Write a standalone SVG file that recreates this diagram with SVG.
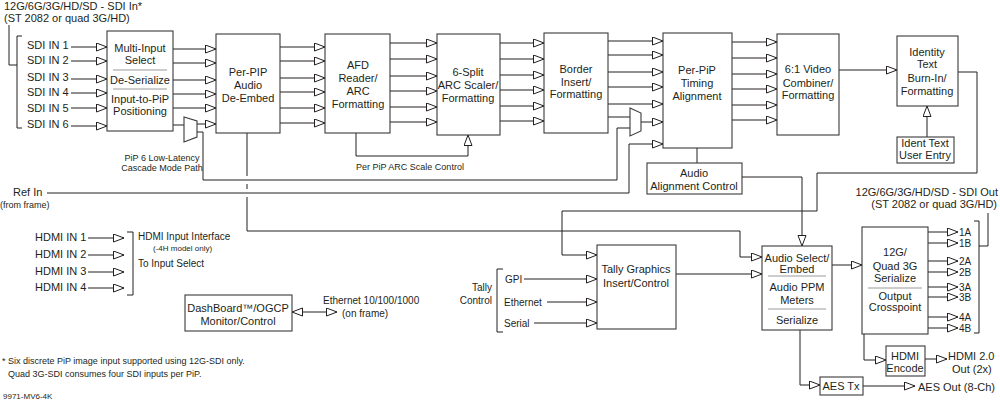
<svg xmlns="http://www.w3.org/2000/svg" width="1000" height="401" viewBox="0 0 1000 401">
<defs>
<style>
text{font-family:"Liberation Sans",Arial,sans-serif;font-size:11px;fill:#231f20}
.c{text-anchor:middle}
.e{text-anchor:end}
.sm{font-size:9px}
.xs{font-size:8px}
.md{font-size:10px}
.b{fill:#fff;stroke:#3a3a3a;stroke-width:1.1}
#connectors path{fill:none;stroke:#231f20;stroke-width:1}
#connectors path.a{marker-end:url(#ah)}
.sep{stroke:#9a9a9a;stroke-width:1}
</style>
<marker id="ah" markerWidth="12" markerHeight="10" refX="11" refY="4.5" orient="auto-start-reverse" markerUnits="userSpaceOnUse">
<path d="M0.5,0.5 L11,4.5 L0.5,8.5 Z" fill="#fff" stroke="#231f20" stroke-width="1"/>
</marker>
</defs>
<rect width="1000" height="401" fill="#fff"/>

<g id="connectors">
<path d="M9,25V65H17 M22,36H17V128H22"/>
<path class="a" d="M71,47H107"/>
<path class="a" d="M71,61H107"/>
<path class="a" d="M71,79H107"/>
<path class="a" d="M71,93H107"/>
<path class="a" d="M71,108H107"/>
<path class="a" d="M71,126H107"/>
<path class="a" d="M173,49H216"/>
<path class="a" d="M173,63H216"/>
<path class="a" d="M173,80H216"/>
<path class="a" d="M173,94H216"/>
<path class="a" d="M173,108H216"/>
<path class="a" d="M197,124H216"/>
<path d="M173,125H184"/>
<path class="a" d="M280,47H325"/>
<path class="a" d="M280,61H325"/>
<path class="a" d="M280,78H325"/>
<path class="a" d="M280,92H325"/>
<path class="a" d="M280,108H325"/>
<path class="a" d="M280,123H325"/>
<path class="a" d="M390,43H437"/>
<path class="a" d="M390,59H437"/>
<path class="a" d="M390,76H437"/>
<path class="a" d="M390,91H437"/>
<path class="a" d="M390,107H437"/>
<path class="a" d="M390,122H437"/>
<path class="a" d="M500,43H544"/>
<path class="a" d="M500,59H544"/>
<path class="a" d="M500,75H544"/>
<path class="a" d="M500,90H544"/>
<path class="a" d="M500,106H544"/>
<path class="a" d="M500,121H544"/>
<path class="a" d="M608,41H663"/>
<path class="a" d="M608,55H663"/>
<path class="a" d="M608,72H663"/>
<path class="a" d="M608,87H663"/>
<path class="a" d="M608,104H663"/>
<path class="a" d="M641,122H663"/>
<path d="M608,117H630"/>
<path class="a" d="M732,42H777"/>
<path class="a" d="M732,58H777"/>
<path class="a" d="M732,74H777"/>
<path class="a" d="M732,89H777"/>
<path class="a" d="M732,105H777"/>
<path class="a" d="M732,120H777"/>
<path class="a" d="M839,70H897"/>
<path class="a" d="M927,137V106"/>
<path class="a" d="M356,133V156H468V135"/>
<path class="a" d="M47,193H629V144H663"/>
<path d="M197,132H203V180H617V128H630"/>
<path d="M697,148V163"/>
<path class="a" d="M742,177H802V246"/>
<path class="a" d="M958,72H977V173H817V211H562V255H597"/>
<path d="M247,133V176 M247,184V189 M247,197V231H740V257"/>
<path class="a" d="M740,257H762"/>
<path class="a" d="M676,274H762"/>
<path class="a" d="M524,279H597"/>
<path class="a" d="M547,302H597"/>
<path class="a" d="M534,323H597"/>
<path d="M503,269H497V332H503"/>
<path class="a" d="M832,265H862"/>
<path class="a" d="M928,232H958"/>
<path class="a" d="M928,243H958"/>
<path class="a" d="M928,261H958"/>
<path class="a" d="M928,272H958"/>
<path class="a" d="M928,287H958"/>
<path class="a" d="M928,297H958"/>
<path class="a" d="M928,317H958"/>
<path class="a" d="M928,328H958"/>
<path d="M974,221H979V333H974 M979,246H988V213"/>
<path class="a" d="M864,334V360H886"/>
<path class="a" d="M925,359H947"/>
<path class="a" d="M800,330V385H820"/>
<path class="a" d="M863,386H915"/>
<path class="a" d="M88,238H124"/>
<path class="a" d="M88,255H124"/>
<path class="a" d="M88,272H124"/>
<path class="a" d="M88,288H124"/>
<path d="M127,232H133V295H127"/>
<path class="a" d="M292,312H337" marker-start="url(#ah)"/>
</g>

<g id="labels">
<text x="4" y="10">12G/6G/3G/HD/SD - SDI In*</text>
<text x="4" y="22">(ST 2082 or quad 3G/HD)</text>
<text x="27" y="49">SDI IN 1</text>
<text x="27" y="64">SDI IN 2</text>
<text x="27" y="81">SDI IN 3</text>
<text x="27" y="96">SDI IN 4</text>
<text x="27" y="112">SDI IN 5</text>
<text x="27" y="128">SDI IN 6</text>
<text class="sm c" x="162" y="161">PiP 6 Low-Latency</text>
<text class="sm c" x="162" y="171">Cascade Mode Path</text>
<text class="sm" x="356" y="170">Per PiP ARC Scale Control</text>
<text x="13" y="196">Ref In</text>
<text class="sm" x="0" y="208">(from frame)</text>
<text x="35" y="241">HDMI IN 1</text>
<text x="35" y="258">HDMI IN 2</text>
<text x="35" y="275">HDMI IN 3</text>
<text x="35" y="291">HDMI IN 4</text>
<text class="md" x="138" y="240">HDMI Input Interface</text>
<text class="xs" x="153" y="251">(-4H model only)</text>
<text class="md" x="138" y="267">To Input Select</text>
<text class="md" x="323" y="304">Ethernet 10/100/1000</text>
<text class="md" x="342" y="317">(on frame)</text>
<text class="md e" x="492" y="291">Tally</text>
<text class="md e" x="492" y="304">Control</text>
<text class="md" x="505" y="283">GPI</text>
<text class="md" x="504" y="306">Ethernet</text>
<text class="md" x="504" y="327">Serial</text>
<text class="sm" x="2" y="364">* Six discrete PiP image input supported using 12G-SDI only.</text>
<text class="sm" x="8" y="377">Quad 3G-SDI consumes four SDI inputs per PiP.</text>
<text class="xs" x="3" y="399">9971-MV6-4K</text>
<text class="e" x="998" y="196">12G/6G/3G/HD/SD - SDI Out</text>
<text class="e" x="997" y="208">(ST 2082 or quad 3G/HD)</text>
<text class="md" x="959" y="236">1A</text>
<text class="md" x="959" y="247">1B</text>
<text class="md" x="959" y="265">2A</text>
<text class="md" x="959" y="276">2B</text>
<text class="md" x="959" y="291">3A</text>
<text class="md" x="959" y="301">3B</text>
<text class="md" x="959" y="321">4A</text>
<text class="md" x="959" y="332">4B</text>
<text x="948" y="360">HDMI 2.0</text>
<text x="952" y="373">Out (2x)</text>
<text x="918" y="391">AES Out (8-Ch)</text>
</g>

<g id="multi-input">
<rect class="b" x="107" y="31" width="66" height="100"/>
<line class="sep" x1="113" y1="70" x2="167" y2="70"/>
<line class="sep" x1="113" y1="89" x2="167" y2="89"/>
<text class="c" x="140" y="52">Multi-Input</text>
<text class="c" x="140" y="64">Select</text>
<text class="c" x="140" y="84">De-Serialize</text>
<text class="c" x="140" y="103">Input-to-PiP</text>
<text class="c" x="140" y="115">Positioning</text>
</g>
<g id="mux1"><polygon class="b" points="184,117 197,121 197,137 184,142"/></g>
<g id="per-pip-audio">
<rect class="b" x="216" y="34" width="64" height="99"/>
<text class="c" x="248" y="76">Per-PIP</text>
<text class="c" x="248" y="89">Audio</text>
<text class="c" x="248" y="102">De-Embed</text>
</g>
<g id="afd">
<rect class="b" x="325" y="34" width="65" height="99"/>
<text class="c" x="358" y="69">AFD</text>
<text class="c" x="358" y="82">Reader/</text>
<text class="c" x="358" y="95">ARC</text>
<text class="c" x="358" y="108">Formatting</text>
</g>
<g id="six-split">
<rect class="b" x="437" y="34" width="63" height="101"/>
<text class="c" x="468" y="76">6-Split</text>
<text class="c" x="468" y="89">ARC Scaler/</text>
<text class="c" x="468" y="102">Formatting</text>
</g>
<g id="border">
<rect class="b" x="544" y="33" width="64" height="100"/>
<text class="c" x="576" y="73">Border</text>
<text class="c" x="576" y="86">Insert/</text>
<text class="c" x="576" y="98">Formatting</text>
</g>
<g id="mux2"><polygon class="b" points="630,108 641,113 641,131 630,136"/></g>
<g id="timing">
<rect class="b" x="663" y="33" width="69" height="115"/>
<text class="c" x="697" y="74">Per-PiP</text>
<text class="c" x="697" y="87">Timing</text>
<text class="c" x="697" y="100">Alignment</text>
</g>
<g id="audio-align">
<rect class="b" x="647" y="163" width="95" height="31"/>
<text class="c" x="694" y="177">Audio</text>
<text class="c" x="694" y="190">Alignment Control</text>
</g>
<g id="combiner">
<rect class="b" x="777" y="34" width="62" height="101"/>
<text class="c" x="808" y="73">6:1 Video</text>
<text class="c" x="808" y="87">Combiner/</text>
<text class="c" x="808" y="99">Formatting</text>
</g>
<g id="identity">
<rect class="b" x="897" y="36" width="61" height="70"/>
<text class="c" x="927" y="56">Identity</text>
<text class="c" x="927" y="68">Text</text>
<text class="c" x="927" y="82">Burn-In/</text>
<text class="c" x="927" y="95">Formatting</text>
</g>
<g id="ident-entry">
<rect class="b" x="897" y="137" width="57" height="26"/>
<text class="c" x="925" y="147">Ident Text</text>
<text class="c" x="925" y="159">User Entry</text>
</g>
<g id="tally">
<rect class="b" x="597" y="245" width="79" height="84"/>
<text class="c" x="636" y="273">Tally Graphics</text>
<text class="c" x="636" y="287">Insert/Control</text>
</g>
<g id="audio-select">
<rect class="b" x="762" y="246" width="70" height="84"/>
<line class="sep" x1="768" y1="276" x2="826" y2="276"/>
<line class="sep" x1="768" y1="309" x2="826" y2="309"/>
<text class="c" x="797" y="262">Audio Select/</text>
<text class="c" x="797" y="273">Embed</text>
<text class="c" x="797" y="291">Audio PPM</text>
<text class="c" x="797" y="304">Meters</text>
<text class="c" x="797" y="324">Serialize</text>
</g>
<g id="serialize-12g">
<rect class="b" x="862" y="227" width="66" height="107"/>
<line class="sep" x1="868" y1="288" x2="922" y2="288"/>
<text class="c" x="895" y="256">12G/</text>
<text class="c" x="895" y="270">Quad 3G</text>
<text class="c" x="895" y="282">Serialize</text>
<text class="c" x="895" y="300">Output</text>
<text class="c" x="895" y="311">Crosspoint</text>
</g>
<g id="hdmi-encode">
<rect class="b" x="886" y="346" width="39" height="30"/>
<text class="c" x="905" y="360">HDMI</text>
<text class="c" x="905" y="372">Encode</text>
</g>
<g id="aes-tx">
<rect class="b" x="820" y="377" width="43" height="18"/>
<text class="c" x="841" y="390">AES Tx</text>
</g>
<g id="dashboard">
<rect class="b" x="185" y="295" width="107" height="36"/>
<text class="c" x="238" y="312">DashBoard™/OGCP</text>
<text class="c" x="238" y="325">Monitor/Control</text>
</g>
</svg>
